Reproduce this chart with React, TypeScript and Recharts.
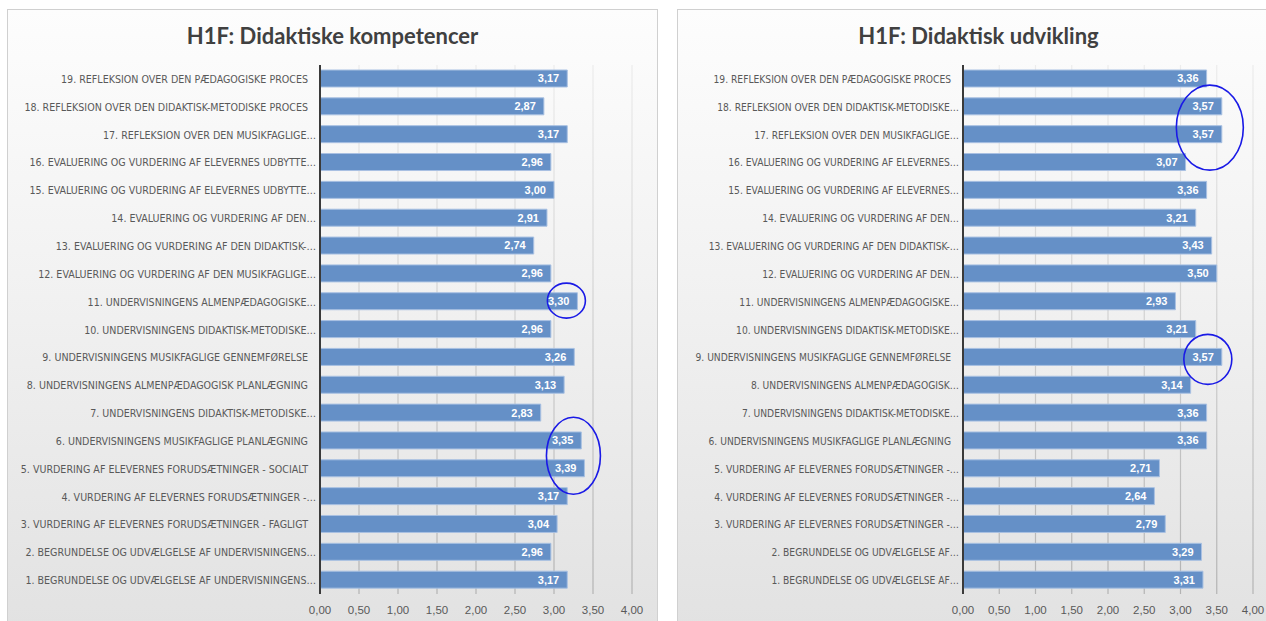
import React from 'react';
import { BarChart, Bar, XAxis, YAxis, CartesianGrid, LabelList, ReferenceDot } from 'recharts';

// ---------- DATA ----------
const leftTitle = 'H1F: Didaktiske kompetencer';
const leftCategories = [
  '19. REFLEKSION OVER DEN PÆDAGOGISKE PROCES',
  '18. REFLEKSION OVER DEN DIDAKTISK-METODISKE PROCES',
  '17. REFLEKSION OVER DEN MUSIKFAGLIGE…',
  '16. EVALUERING OG VURDERING AF ELEVERNES UDBYTTE…',
  '15. EVALUERING OG VURDERING AF ELEVERNES UDBYTTE…',
  '14. EVALUERING OG VURDERING AF DEN…',
  '13. EVALUERING OG VURDERING AF DEN DIDAKTISK-…',
  '12. EVALUERING OG VURDERING AF DEN MUSIKFAGLIGE…',
  '11. UNDERVISNINGENS ALMENPÆDAGOGISKE…',
  '10. UNDERVISNINGENS DIDAKTISK-METODISKE…',
  '9. UNDERVISNINGENS MUSIKFAGLIGE GENNEMFØRELSE',
  '8. UNDERVISNINGENS ALMENPÆDAGOGISK PLANLÆGNING',
  '7. UNDERVISNINGENS DIDAKTISK-METODISKE…',
  '6. UNDERVISNINGENS MUSIKFAGLIGE PLANLÆGNING',
  '5. VURDERING AF ELEVERNES FORUDSÆTNINGER - SOCIALT',
  '4. VURDERING AF ELEVERNES FORUDSÆTNINGER -…',
  '3. VURDERING AF ELEVERNES FORUDSÆTNINGER - FAGLIGT',
  '2. BEGRUNDELSE OG UDVÆLGELSE AF UNDERVISNINGENS…',
  '1. BEGRUNDELSE OG UDVÆLGELSE AF UNDERVISNINGENS…',
];
const leftValues = [3.17, 2.87, 3.17, 2.96, 3.0, 2.91, 2.74, 2.96, 3.3, 2.96, 3.26, 3.13, 2.83, 3.35, 3.39, 3.17, 3.04, 2.96, 3.17];

const rightTitle = 'H1F: Didaktisk udvikling';
const rightCategories = [
  '19. REFLEKSION OVER DEN PÆDAGOGISKE PROCES',
  '18. REFLEKSION OVER DEN DIDAKTISK-METODISKE…',
  '17. REFLEKSION OVER DEN MUSIKFAGLIGE…',
  '16. EVALUERING OG VURDERING AF ELEVERNES…',
  '15. EVALUERING OG VURDERING AF ELEVERNES…',
  '14. EVALUERING OG VURDERING AF DEN…',
  '13. EVALUERING OG VURDERING AF DEN DIDAKTISK-…',
  '12. EVALUERING OG VURDERING AF DEN…',
  '11. UNDERVISNINGENS ALMENPÆDAGOGISKE…',
  '10. UNDERVISNINGENS DIDAKTISK-METODISKE…',
  '9. UNDERVISNINGENS MUSIKFAGLIGE GENNEMFØRELSE',
  '8. UNDERVISNINGENS ALMENPÆDAGOGISK…',
  '7. UNDERVISNINGENS DIDAKTISK-METODISKE…',
  '6. UNDERVISNINGENS MUSIKFAGLIGE PLANLÆGNING',
  '5. VURDERING AF ELEVERNES FORUDSÆTNINGER -…',
  '4. VURDERING AF ELEVERNES FORUDSÆTNINGER -…',
  '3. VURDERING AF ELEVERNES FORUDSÆTNINGER -…',
  '2. BEGRUNDELSE OG UDVÆLGELSE AF…',
  '1. BEGRUNDELSE OG UDVÆLGELSE AF…',
];
const rightValues = [3.36, 3.57, 3.57, 3.07, 3.36, 3.21, 3.43, 3.5, 2.93, 3.21, 3.57, 3.14, 3.36, 3.36, 2.71, 2.64, 2.79, 3.29, 3.31];

const xTicks = [0, 0.5, 1, 1.5, 2, 2.5, 3, 3.5, 4];

// hand-drawn annotation circles, anchored at (category index, value)
const leftMarks = [
  { idx: 8, value: 3.3, dx: -11, dy: -1, rx: 19, ry: 17.5 },
  { idx: 14, value: 3.39, dx: -11, dy: -13, rx: 27, ry: 38.5 },
];
const rightMarks = [
  { idx: 2, value: 3.57, dx: -12, dy: -7, rx: 33.5, ry: 42.5 },
  { idx: 10, value: 3.57, dx: -14, dy: 2, rx: 24, ry: 25 },
];

// ---------- STYLE ----------
const LABEL_FONT = "'Liberation Sans Narrow', 'DejaVu Sans Condensed', 'Liberation Sans', sans-serif";
const NUM_FONT = "'Liberation Sans', Arial, sans-serif";
const TITLE_FONT = "Lato, 'Liberation Sans', sans-serif";

const fmt = (v: number) => Number(v).toFixed(2).replace('.', ',');

const makeCatTick = (fontSize: number) => (props: any) => {
  const { x, y, payload } = props;
  const t: string = String(payload.value);
  const trunc = t.endsWith('…');
  return (
    <text
      x={x - (trunc ? 4 : 12)}
      y={y}
      dy={4}
      textAnchor="end"
      fill="#595959"
      fontSize={fontSize}
      fontFamily={LABEL_FONT}
    >
      {t}
    </text>
  );
};

const makeEllipse = (m: any) => (p: any) => (
  <ellipse
    cx={p.cx + m.dx}
    cy={p.cy + m.dy}
    rx={m.rx}
    ry={m.ry}
    fill="none"
    stroke="#1a1ae6"
    strokeWidth={1.6}
  />
);

type PanelProps = {
  id: string;
  left: number;
  width: number;
  yAxisWidth: number;
  rightMargin: number;
  labelFontSize: number;
  title: string;
  categories: string[];
  values: number[];
  marks: any[];
};

const Panel = ({ id, left, width, yAxisWidth, rightMargin, labelFontSize, title, categories, values, marks }: PanelProps) => {
  const data = categories.map((c, i) => ({ label: c, value: values[i] }));
  const CatTick = makeCatTick(labelFontSize);
  return (
    <div
      style={{
        position: 'absolute',
        left,
        top: 9,
        width,
        height: 640,
        boxSizing: 'border-box',
        border: '1px solid #d0d0d0',
        background: 'linear-gradient(to bottom, #fdfdfd 0%, #f1f1f1 45%, #e1e1e1 100%)',
      }}
    >
      <div
        style={{
          position: 'absolute',
          top: 11,
          left: 0,
          width: '100%',
          textAlign: 'center',
          fontFamily: TITLE_FONT,
          fontWeight: 700,
          fontSize: 22,
          lineHeight: '30px',
          color: '#404040',
        }}
      >
        {title}
      </div>
      <div style={{ position: 'absolute', left: -1, top: -1 }}>
        <BarChart
          width={width}
          height={612}
          layout="vertical"
          data={data}
          margin={{ top: 56, right: rightMargin, bottom: 0, left: 0 }}
        >
          <defs>
            <linearGradient id={`grid-${id}`} gradientUnits="userSpaceOnUse" x1="0" y1="56" x2="0" y2="585">
              <stop offset="0%" stopColor="#ececec" />
              <stop offset="100%" stopColor="#b3b3b3" />
            </linearGradient>
          </defs>
          <CartesianGrid horizontal={false} stroke={`url(#grid-${id})`} strokeWidth={1.2} />
          <XAxis
            type="number"
            domain={[0, 4]}
            ticks={xTicks}
            tickFormatter={fmt}
            axisLine={false}
            tickLine={false}
            height={27}
            tickSize={10}
            tickMargin={2}
            tick={{ fill: '#595959', fontSize: 11.5, fontFamily: NUM_FONT }}
            interval={0}
          />
          <YAxis
            type="category"
            dataKey="label"
            width={yAxisWidth}
            tick={<CatTick />}
            tickLine={false}
            tickSize={0}
            tickMargin={0}
            axisLine={{ stroke: '#3a3a3a', strokeWidth: 2 }}
            interval={0}
          />
          <Bar dataKey="value" fill="#6590c7" stroke="#a9c1e2" strokeWidth={1} barSize={17} isAnimationActive={false}>
            <LabelList
              dataKey="value"
              position="insideRight"
              offset={8}
              formatter={(v: any) => fmt(v)}
              fill="#ffffff"
              fontSize={11}
              fontWeight={700}
              fontFamily={NUM_FONT}
            />
          </Bar>
          {marks.map((m, i) => (
            <ReferenceDot
              key={i}
              x={m.value}
              y={categories[m.idx]}
              r={1}
              ifOverflow="visible"
              shape={makeEllipse(m)}
            />
          ))}
        </BarChart>
      </div>
    </div>
  );
};

export default function App() {
  return (
    <div
      style={{
        position: 'absolute',
        left: 0,
        top: 0,
        width: 1266,
        height: 621,
        overflow: 'hidden',
        background: '#ffffff',
      }}
    >
      <Panel
        id="l"
        left={7}
        width={651}
        yAxisWidth={313}
        rightMargin={26}
        labelFontSize={10.6}
        title={leftTitle}
        categories={leftCategories}
        values={leftValues}
        marks={leftMarks}
      />
      <Panel
        id="r"
        left={677}
        width={603}
        yAxisWidth={286}
        rightMargin={27}
        labelFontSize={10.2}
        title={rightTitle}
        categories={rightCategories}
        values={rightValues}
        marks={rightMarks}
      />
    </div>
  );
}
